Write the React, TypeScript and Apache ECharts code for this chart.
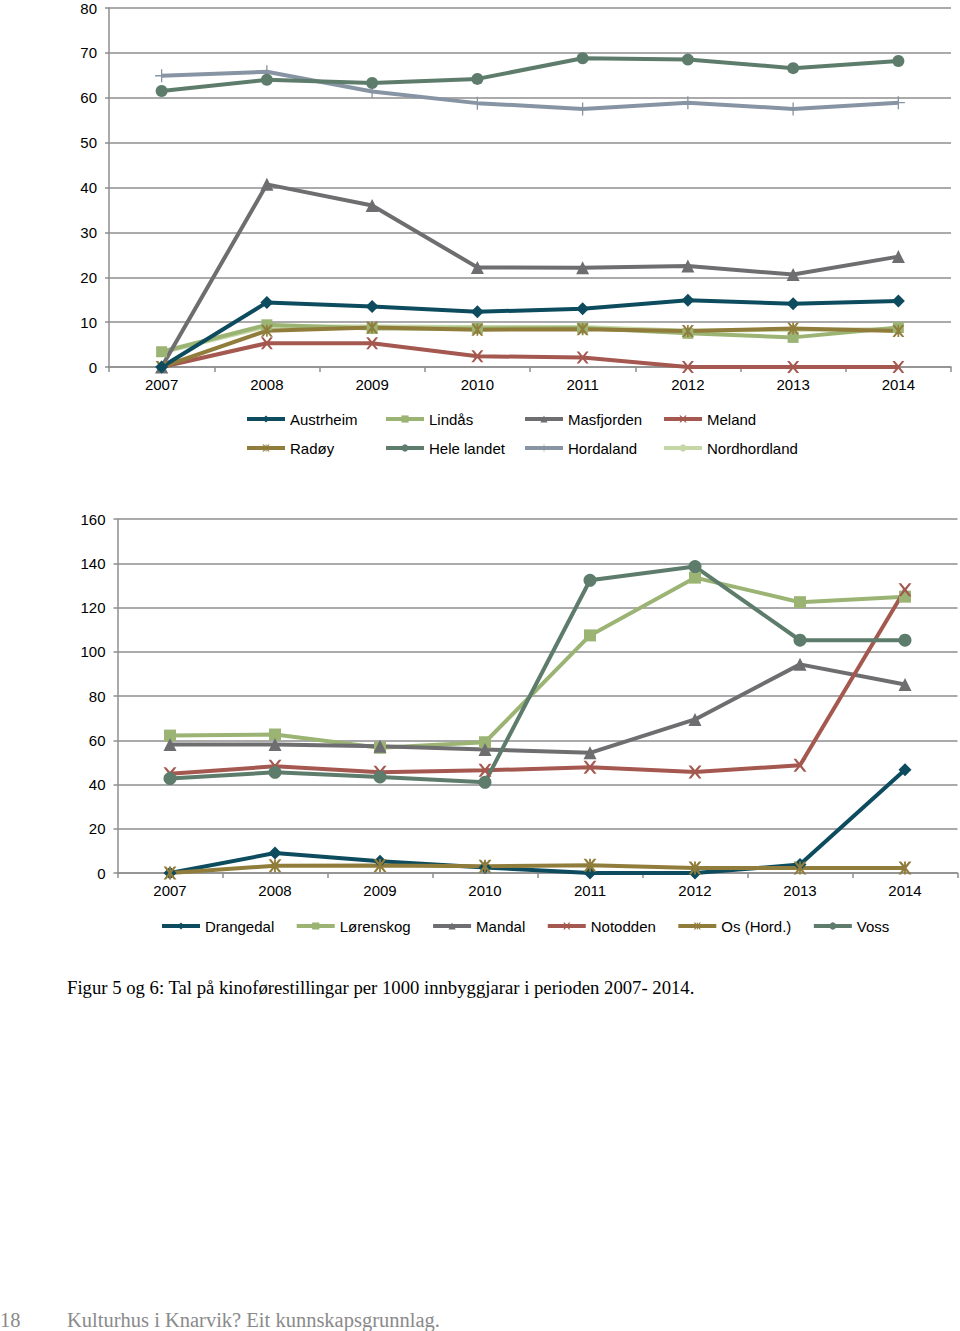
import React, { useEffect, useRef } from 'react';
import * as echarts from 'echarts';

const years = ['2007', '2008', '2009', '2010', '2011', '2012', '2013', '2014'];

// Chart 1
const austrheim = [0, 14.4, 13.5, 12.3, 13.0, 14.9, 14.1, 14.7];
const lindas = [3.4, 9.4, 8.6, 8.6, 8.7, 7.5, 6.6, 8.8];
const masfjorden = [0, 40.7, 36.0, 22.2, 22.1, 22.5, 20.6, 24.6];
const meland = [0, 5.3, 5.3, 2.4, 2.1, 0, 0, 0];
const radoy = [0, 8.1, 8.8, 8.3, 8.4, 8.0, 8.6, 8.0];
const heleLandet = [61.5, 64.0, 63.3, 64.2, 68.8, 68.5, 66.6, 68.2];
const hordaland = [64.9, 65.8, 61.4, 58.8, 57.5, 58.9, 57.5, 58.9];
const nordhordland = [3.2, 9.0, 9.0, 8.9, 8.9, 8.1, 8.3, 8.4];

// Chart 2
const drangedal = [0, 9.0, 5.3, 2.5, 0, 0, 3.8, 46.7];
const lorenskog = [62.1, 62.6, 56.6, 59.1, 107.4, 133.5, 122.4, 124.9];
const mandal = [58.1, 58.1, 57.3, 55.8, 54.3, 69.4, 94.3, 85.2];
const notodden = [44.9, 48.2, 45.5, 46.4, 47.8, 45.7, 48.7, 128.0];
const osHord = [0, 3.3, 3.4, 3.0, 3.5, 2.3, 2.3, 2.3];
const voss = [42.7, 45.5, 43.4, 41.0, 132.3, 138.5, 105.2, 105.2];

const caption = 'Figur 5 og 6: Tal på kinoførestillingar per 1000 innbyggjarar i perioden 2007- 2014.';
const footerPage = '18';
const footerText = 'Kulturhus i Knarvik? Eit kunnskapsgrunnlag.';

const C_TEAL = '#0d4b5e';
const C_LGREEN = '#9bb474';
const C_GRAY = '#6e6e70';
const C_RED = '#a4584f';
const C_OLIVE = '#917d3b';
const C_GGRAY = '#5e7c6b';
const C_BGRAY = '#8794a4';
const C_PALE = '#c4d7a4';

const X_PATH = 'path://M0,0L2,0L5,3.6L8,0L10,0L6.2,5L10,10L8,10L5,6.4L2,10L0,10L3.8,5Z';
const STAR_PATH = 'path://M0,0L2,0L5,3.6L8,0L10,0L6.2,5L10,10L8,10L5,6.4L2,10L0,10L3.8,5Z M4.3,0L5.7,0L5.7,10L4.3,10Z';
const PLUS_PATH = 'path://M4.5,0L5.5,0L5.5,4.5L10,4.5L10,5.5L5.5,5.5L5.5,10L4.5,10L4.5,5.5L0,5.5L0,4.5L4.5,4.5Z';

const FONT = 'Liberation Sans';
const GRID_COLOR = '#8e8e8e';

function mkSeries(name: string, data: number[], color: string, symbol: string, size: number, idx: number) {
  return {
    name,
    type: 'line',
    xAxisIndex: idx,
    yAxisIndex: idx,
    data,
    symbol,
    symbolSize: size,
    showSymbol: symbol !== 'none',
    lineStyle: { color, width: 4 },
    itemStyle: { color, borderWidth: 0 },
    emphasis: { disabled: true },
  };
}

export default function App() {
  const ref = useRef<HTMLDivElement>(null);
  useEffect(() => {
    if (!ref.current) return;
    const chart = echarts.init(ref.current, undefined, { renderer: 'svg' });

    const axisLabel = { fontSize: 15, color: '#000', fontFamily: FONT };
    const xAxisBase = (gridIndex: number) => ({
      type: 'category',
      gridIndex,
      data: years,
      boundaryGap: true,
      axisLine: { show: true, lineStyle: { color: GRID_COLOR, width: 1.5 } },
      axisTick: { show: true, length: 5, lineStyle: { color: GRID_COLOR, width: 1.5 } },
      axisLabel: { ...axisLabel, margin: 10 },
      splitLine: { show: false },
    });
    const yAxisBase = (gridIndex: number, max: number, interval: number) => ({
      type: 'value',
      gridIndex,
      min: 0,
      max,
      interval,
      axisLine: { show: true, lineStyle: { color: GRID_COLOR, width: 1.5 } },
      axisTick: { show: true, length: 4, lineStyle: { color: GRID_COLOR, width: 1.5 } },
      axisLabel: { ...axisLabel, margin: 12 },
      splitLine: { show: true, lineStyle: { color: GRID_COLOR, width: 1.5 } },
    });

    const legendText = { fontSize: 15, color: '#000', fontFamily: FONT, lineHeight: 18 };
    const legend1Names = [
      ['Austrheim', 'Lindås', 'Masfjorden', 'Meland'],
      ['Radøy', 'Hele landet', 'Hordaland', 'Nordhordland'],
    ];
    const colX = [245, 384, 523, 662];
    const rowTop = [410, 439];
    const legendCommon = {
      padding: 0,
      itemWidth: 38,
      itemHeight: 9,
      textStyle: legendText,
      selectedMode: false,
      lineStyle: { width: 4 },
    };
    const legends: any[] = [];
    legend1Names.forEach((row, r) => {
      row.forEach((n, c) => {
        legends.push({ ...legendCommon, data: [n], left: colX[c], top: rowTop[r] });
      });
    });
    legends.push({
      ...legendCommon,
      data: ['Drangedal', 'Lørenskog', 'Mandal', 'Notodden', 'Os (Hord.)', 'Voss'],
      left: 160,
      top: 917,
      itemGap: 20.5,
    });

    chart.setOption({
      animation: false,
      backgroundColor: '#fff',
      grid: [
        { left: 109, top: 8, width: 842, height: 359 },
        { left: 117.5, top: 519, width: 840, height: 354 },
      ],
      xAxis: [xAxisBase(0), xAxisBase(1)],
      yAxis: [yAxisBase(0, 80, 10), yAxisBase(1, 160, 20)],
      legend: legends,
      series: [
        mkSeries('Hordaland', hordaland, C_BGRAY, PLUS_PATH, 13, 0),
        mkSeries('Hele landet', heleLandet, C_GGRAY, 'circle', 12, 0),
        mkSeries('Nordhordland', nordhordland, C_PALE, 'none', 0, 0),
        mkSeries('Meland', meland, C_RED, X_PATH, 12, 0),
        mkSeries('Lindås', lindas, C_LGREEN, 'rect', 11, 0),
        mkSeries('Radøy', radoy, C_OLIVE, STAR_PATH, 12, 0),
        mkSeries('Masfjorden', masfjorden, C_GRAY, 'triangle', 13, 0),
        mkSeries('Austrheim', austrheim, C_TEAL, 'diamond', 13, 0),

        mkSeries('Drangedal', drangedal, C_TEAL, 'diamond', 13, 1),
        mkSeries('Lørenskog', lorenskog, C_LGREEN, 'rect', 12, 1),
        mkSeries('Mandal', mandal, C_GRAY, 'triangle', 13, 1),
        mkSeries('Notodden', notodden, C_RED, X_PATH, 13, 1),
        mkSeries('Os (Hord.)', osHord, C_OLIVE, STAR_PATH, 13, 1),
        mkSeries('Voss', voss, C_GGRAY, 'circle', 13, 1),
      ],
      graphic: [
        {
          type: 'text',
          left: 67,
          top: 978,
          style: { text: caption, font: '18.7px "Liberation Serif"', fill: '#000' },
        },
        {
          type: 'text',
          left: 0,
          top: 1309,
          style: { text: footerPage, font: '20.5px "Liberation Serif"', fill: '#8a8a8a' },
        },
        {
          type: 'text',
          left: 67,
          top: 1309,
          style: { text: footerText, font: '20.5px "Liberation Serif"', fill: '#8a8a8a' },
        },
      ],
    });
    return () => chart.dispose();
  }, []);
  return (
    <div
      ref={ref}
      style={{ position: 'absolute', left: 0, top: 0, width: 960, height: 1331 }}
    />
  );
}
